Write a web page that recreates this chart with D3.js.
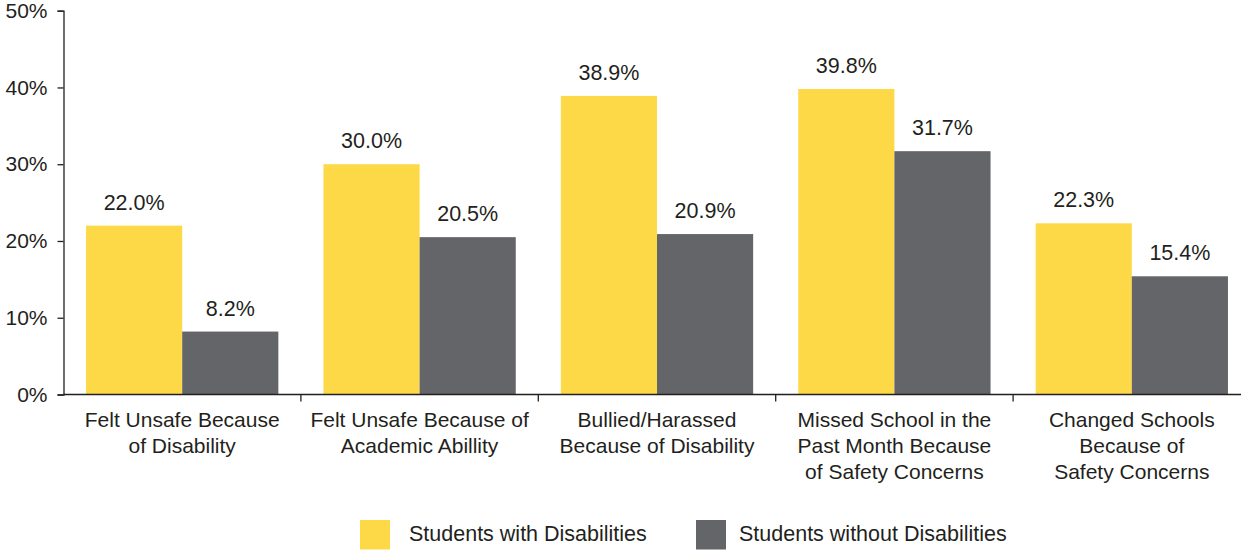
<!DOCTYPE html>
<html>
<head>
<meta charset="utf-8">
<script src="https://cdn.jsdelivr.net/npm/d3@7"></script>
<style>
  html, body { margin: 0; padding: 0; background: #fff; }
  svg { display: block; }
  text { font-family: "Liberation Sans", Arial, sans-serif; fill: #231f20; }
</style>
</head>
<body>
<svg id="chart" width="1241" height="550"></svg>
<script>
const categories = [
  ["Felt Unsafe Because", "of Disability"],
  ["Felt Unsafe Because of", "Academic Abillity"],
  ["Bullied/Harassed", "Because of Disability"],
  ["Missed School in the", "Past Month Because", "of Safety Concerns"],
  ["Changed Schools", "Because of", "Safety Concerns"]
];
const seriesNames = ["Students with Disabilities", "Students without Disabilities"];
const withDisabilities = [22.0, 30.0, 38.9, 39.8, 22.3];
const withoutDisabilities = [8.2, 20.5, 20.9, 31.7, 15.4];
const yTicks = [0, 10, 20, 30, 40, 50];
const colors = ["#fdd947", "#646569"];

const svg = d3.select("#chart");
const axisX = 63.5, baseY = 394.5, topY = 10.7;
const catKeys = categories.map((c, i) => i);

const x0 = d3.scaleBand().domain(catKeys).range([axisX, axisX + 5 * 237.4])
  .paddingInner(0.19).paddingOuter(0.095);
const x1 = d3.scaleBand().domain([0, 1]).range([0, x0.bandwidth()]);
const y = d3.scaleLinear().domain([0, 50]).range([baseY, topY]);

const series = [withDisabilities, withoutDisabilities];

// bars
const g = svg.append("g");
catKeys.forEach(i => {
  series.forEach((s, j) => {
    g.append("rect")
      .attr("x", x0(i) + x1(j))
      .attr("y", y(s[i]))
      .attr("width", x1.bandwidth())
      .attr("height", baseY - y(s[i]))
      .attr("fill", colors[j]);
    g.append("text")
      .attr("x", x0(i) + x1(j) + x1.bandwidth() / 2)
      .attr("y", y(s[i]) - 16)
      .attr("text-anchor", "middle")
      .style("font-size", "21.5px")
      .text(s[i].toFixed(1) + "%");
  });
});

// y axis
const yAxis = d3.axisLeft(y).tickValues(yTicks).tickSize(6).tickPadding(10)
  .tickFormat(d => d + "%");
const ya = svg.append("g").attr("transform", `translate(${axisX},0)`).call(yAxis);
ya.select(".domain").attr("stroke", "#231f20").attr("stroke-width", 1.3);
ya.selectAll(".tick line").attr("stroke", "#231f20").attr("stroke-width", 1.3);
ya.selectAll(".tick text").style("font-size", "21px").attr("fill", "#231f20")
  .attr("font-family", null);

// x axis baseline
svg.append("line").attr("x1", axisX).attr("x2", 1241)
  .attr("y1", baseY).attr("y2", baseY)
  .attr("stroke", "#231f20").attr("stroke-width", 1.3);
// category separator ticks
catKeys.forEach(i => {
  const bx = x0(i) + x0.bandwidth() + x0.step() * x0.paddingInner() / 2;
  svg.append("line").attr("x1", bx).attr("x2", bx)
    .attr("y1", baseY).attr("y2", baseY + 7)
    .attr("stroke", "#231f20").attr("stroke-width", 1.3);
});

// category labels
catKeys.forEach(i => {
  const cx = x0(i) + x0.bandwidth() / 2;
  const t = svg.append("text").attr("text-anchor", "middle").style("font-size", "21px");
  categories[i].forEach((line, k) => {
    t.append("tspan").attr("x", cx).attr("y", 426.5 + k * 26.3).text(line);
  });
});

// legend
const legendItems = [{x: 360, tx: 409}, {x: 696, tx: 739}];
seriesNames.forEach((name, j) => {
  svg.append("rect").attr("x", legendItems[j].x).attr("y", 520)
    .attr("width", 30).attr("height", 29.5).attr("fill", colors[j]);
  svg.append("text").attr("x", legendItems[j].tx).attr("y", 541)
    .style("font-size", "21.5px").text(name);
});
</script>
</body>
</html>
